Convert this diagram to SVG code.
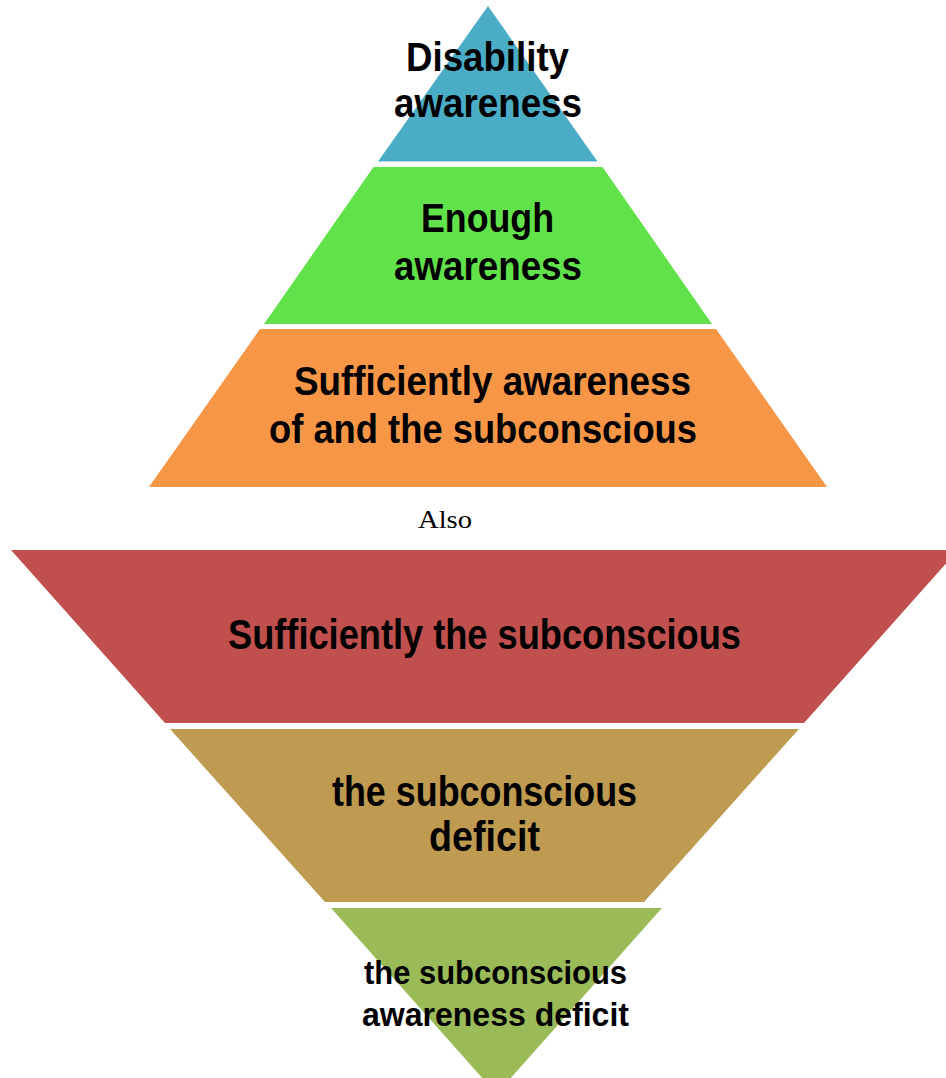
<svg xmlns="http://www.w3.org/2000/svg" width="946" height="1078" viewBox="0 0 946 1078">
<style>
.t{font-family:"Liberation Sans Narrow","Liberation Sans",Arial,sans-serif;font-weight:bold;fill:#000}
.s{font-family:"Liberation Serif","Times New Roman",serif;fill:#000}
</style>
<rect width="946" height="1078" fill="#fff"/>
<g id="level-disability-awareness">
<polygon points="488,6 597.5,161.5 378,161.5" fill="#4BACC6"/>
<text class="t" x="406" y="71" font-size="40" textLength="163" lengthAdjust="spacingAndGlyphs">Disability</text>
<text class="t" x="394" y="117" font-size="40" textLength="188" lengthAdjust="spacingAndGlyphs">awareness</text>
</g>
<g id="level-enough-awareness">
<polygon points="373.5,167 602.5,167 712,324 264,324" fill="#62E24A"/>
<text class="t" x="421" y="232" font-size="40" textLength="133" lengthAdjust="spacingAndGlyphs">Enough</text>
<text class="t" x="394" y="280" font-size="40" textLength="188" lengthAdjust="spacingAndGlyphs">awareness</text>
</g>
<g id="level-sufficiently-awareness">
<polygon points="260,329 716,329 827,487 149,487" fill="#F79646"/>
<text class="t" x="294" y="395" font-size="40" textLength="397" lengthAdjust="spacingAndGlyphs">Sufficiently awareness</text>
<text class="t" x="269" y="443" font-size="40" textLength="428" lengthAdjust="spacingAndGlyphs">of and the subconscious</text>
</g>
<g id="label-also">
<text class="s" x="418" y="528" font-size="26" textLength="54" lengthAdjust="spacingAndGlyphs">Also</text>
</g>
<g id="level-sufficiently-subconscious">
<polygon points="11,550 958,550 804,723 165,723" fill="#C0504D"/>
<text class="t" x="228" y="649" font-size="42" textLength="513" lengthAdjust="spacingAndGlyphs">Sufficiently the subconscious</text>
</g>
<g id="level-subconscious-deficit">
<polygon points="170,729 799,729 644,902 325,902" fill="#BF9B52"/>
<text class="t" x="332" y="806" font-size="42" textLength="305" lengthAdjust="spacingAndGlyphs">the subconscious</text>
<text class="t" x="429" y="851" font-size="42" textLength="111" lengthAdjust="spacingAndGlyphs">deficit</text>
</g>
<g id="level-subconscious-awareness-deficit">
<polygon points="331,908 662,908 496.5,1094" fill="#9BBB59"/>
<text class="t" x="364" y="984" font-size="33" textLength="263" lengthAdjust="spacingAndGlyphs">the subconscious</text>
<text class="t" x="362" y="1026" font-size="33" textLength="267" lengthAdjust="spacingAndGlyphs">awareness deficit</text>
</g>
<g id="connectors"></g>
</svg>
